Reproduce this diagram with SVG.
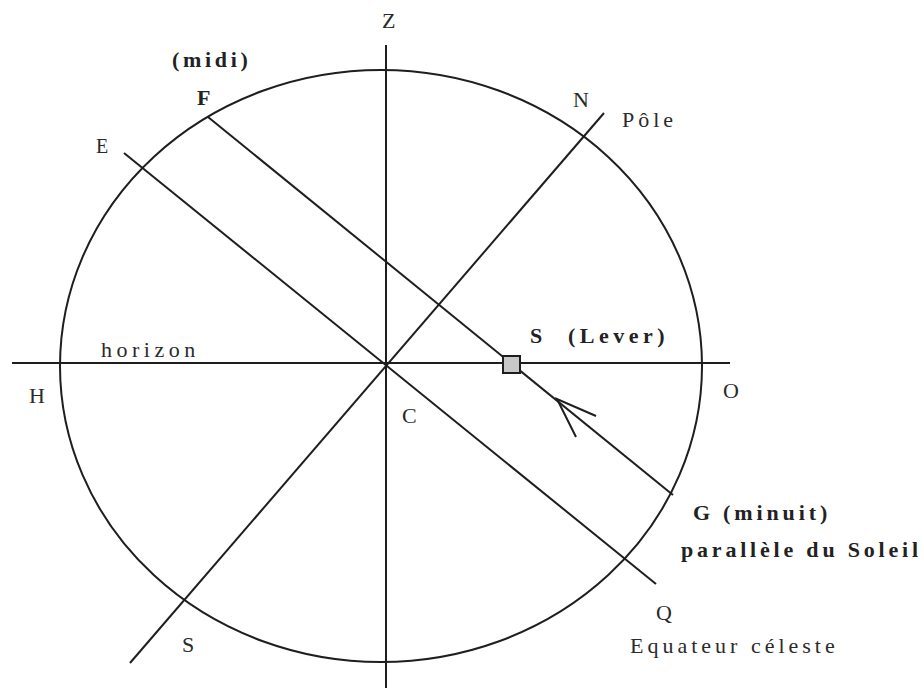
<svg xmlns="http://www.w3.org/2000/svg" width="923" height="689" viewBox="0 0 923 689">
<style>
.ln{stroke:#1e1e1e;stroke-width:2;fill:none}
.t{font-family:"Liberation Serif","Times New Roman",serif;font-size:22px;fill:#2a2a2a}
.b{font-weight:bold;fill:#222}
.sp{letter-spacing:4px}
</style>
<rect width="923" height="689" fill="#fff"/>
<g id="sphere">
<ellipse class="ln" cx="381" cy="366" rx="321" ry="296"/>
</g>
<g id="connectors">
<line class="ln" x1="386" y1="45" x2="386" y2="688"/>
<line class="ln" x1="12" y1="363" x2="730" y2="363"/>
<line class="ln" x1="130" y1="663" x2="604" y2="113"/>
<line class="ln" x1="124" y1="153" x2="656" y2="584"/>
<line class="ln" x1="208" y1="117" x2="673" y2="495"/>
<polyline class="ln" points="596,416 557,399 576,437"/>
</g>
<g id="sun">
<rect x="503" y="356" width="17" height="17" fill="#c8c8c8" stroke="#1e1e1e" stroke-width="2"/>
</g>
<g id="labels">
<text class="t" x="382" y="28">Z</text>
<text class="t" x="96" y="153" style="font-size:20px">E</text>
<text class="t b" x="197" y="105">F</text>
<text class="t b" x="172" y="67" style="letter-spacing:3.7px">(midi)</text>
<text class="t" x="573" y="107">N</text>
<text class="t sp" x="622" y="127">Pôle</text>
<text class="t" x="101" y="357" style="letter-spacing:4.5px">horizon</text>
<text class="t" x="29" y="403">H</text>
<text class="t" x="402" y="423">C</text>
<text class="t" x="723" y="398">O</text>
<text class="t b" x="530" y="343">S</text>
<text class="t b" x="568" y="343" style="letter-spacing:4.5px">(Lever)</text>
<text class="t b" x="693" y="520">G</text>
<text class="t b" x="723" y="520" style="letter-spacing:3.9px">(minuit)</text>
<text class="t b" x="681" y="557" style="letter-spacing:3.8px">parallèle du Soleil</text>
<text class="t" x="656" y="620">Q</text>
<text class="t sp" x="630" y="653">Equateur céleste</text>
<text class="t" x="182" y="652">S</text>
</g>
</svg>
